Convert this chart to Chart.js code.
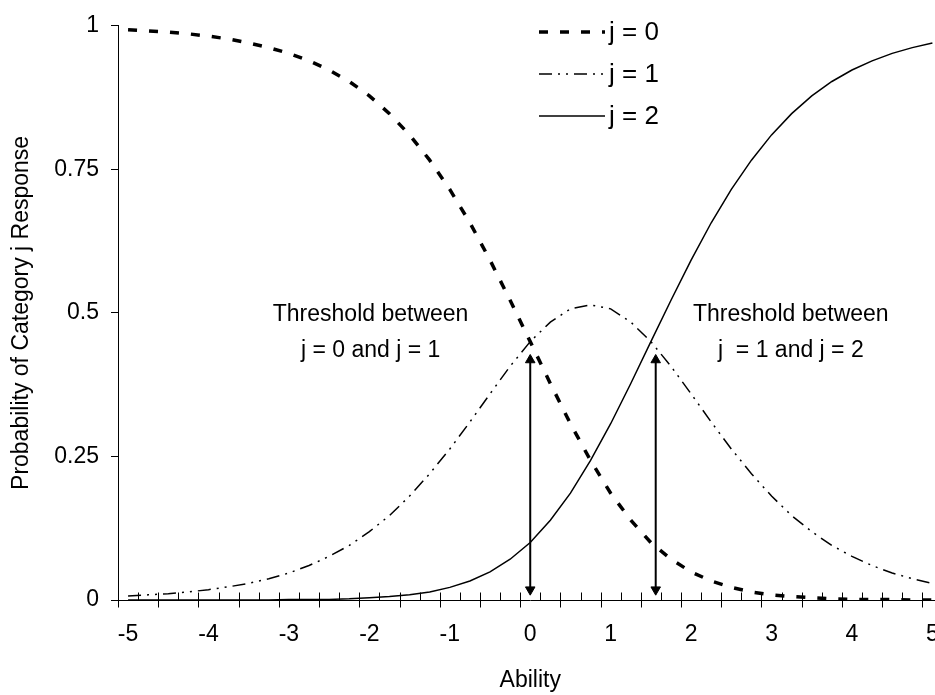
<!DOCTYPE html>
<html>
<head>
<meta charset="utf-8">
<script src="https://cdn.jsdelivr.net/npm/chart.js@4/dist/chart.umd.min.js"></script>
<style>
  html, body { margin: 0; padding: 0; background: #fff; overflow: hidden; }
  #wrap { position: relative; width: 960px; height: 695px; }
</style>
</head>
<body>
<div id="wrap"><canvas id="chart" width="960" height="695"></canvas></div>
<script>
// ability points (one every 0.25) and category curves
const ability = [-5, -4.75, -4.5, -4.25, -4, -3.75, -3.5, -3.25, -3, -2.75, -2.5, -2.25, -2, -1.75, -1.5, -1.25, -1, -0.75, -0.5, -0.25,
  0, 0.25, 0.5, 0.75, 1, 1.25, 1.5, 1.75, 2, 2.25, 2.5, 2.75, 3, 3.25, 3.5, 3.75, 4, 4.25, 4.5, 4.75, 5];
const pJ0 = [0.993, 0.991, 0.989, 0.986, 0.982, 0.977, 0.970, 0.962, 0.952, 0.939, 0.923, 0.903, 0.878, 0.847, 0.810, 0.766, 0.715, 0.657, 0.592, 0.522,
  0.450, 0.377, 0.307, 0.243, 0.186, 0.139, 0.100, 0.071, 0.049, 0.033, 0.022, 0.014, 0.009, 0.006, 0.004, 0.002, 0.001, 0.001, 0.001, 0.000, 0.000];
const pJ1 = [0.007, 0.009, 0.011, 0.014, 0.018, 0.023, 0.029, 0.037, 0.047, 0.060, 0.076, 0.095, 0.119, 0.147, 0.181, 0.220, 0.263, 0.310, 0.359, 0.407,
  0.450, 0.484, 0.507, 0.514, 0.507, 0.484, 0.450, 0.407, 0.359, 0.310, 0.263, 0.220, 0.181, 0.147, 0.119, 0.095, 0.076, 0.060, 0.047, 0.037, 0.029];
const pJ2 = [0.000, 0.000, 0.000, 0.000, 0.000, 0.000, 0.000, 0.000, 0.001, 0.001, 0.001, 0.002, 0.004, 0.006, 0.009, 0.014, 0.022, 0.033, 0.049, 0.071,
  0.100, 0.139, 0.186, 0.243, 0.307, 0.377, 0.450, 0.522, 0.592, 0.657, 0.715, 0.766, 0.810, 0.847, 0.878, 0.903, 0.923, 0.939, 0.952, 0.962, 0.970];

const seriesNames = ["j = 0", "j = 1", "j = 2"];
const xTickLabels = [-5, -4, -3, -2, -1, 0, 1, 2, 3, 4, 5];
const yTickValues = [0, 0.25, 0.5, 0.75, 1];

// double arrows marking the thresholds
const thresholdAbility = [0, 1.56];
const arrowLow = 0.018;
const arrowHigh = 0.418;

// notes beside the arrows
const noteLines = [["Threshold between", "j = 0 and j = 1"], ["Threshold between", "j  = 1 and j = 2"]];
const noteAbility = [-1.985, 3.24];
const noteProb = 0.497;

const FONT = '"Liberation Sans", Arial, sans-serif';
const half = 0.125; // half a category step
const xBounds = ability.map(a => a - half).concat([ability[ability.length - 1] + half]);

function pts(vals) {
  return ability.map((a, i) => ({ x: a, y: vals[i] }));
}

function arrow(a) {
  return {
    label: '',
    data: [{ x: a, y: arrowLow }, { x: a, y: arrowHigh }],
    borderColor: '#000',
    backgroundColor: '#000',
    borderWidth: 2,
    pointStyle: 'triangle',
    pointRadius: 5.5,
    pointBorderWidth: 1,
    pointRotation: [180, 0]
  };
}

// tick marks on the category axis, legend and notes
const extras = {
  id: 'extras',
  afterDraw(chart) {
    const { ctx, scales: { x, y } } = chart;
    ctx.save();
    ctx.strokeStyle = '#000';
    ctx.lineWidth = 1;
    const y0 = Math.round(y.getPixelForValue(0)) + 0.5;
    xBounds.forEach((b, i) => {
      const px = Math.round(x.getPixelForValue(b)) + 0.5;
      ctx.beginPath();
      ctx.moveTo(px, y0 - 8);
      ctx.lineTo(px, i % 2 === 0 ? y0 + 7 : y0);
      ctx.stroke();
    });

    // legend
    ctx.fillStyle = '#000';
    ctx.font = '26px ' + FONT;
    ctx.textAlign = 'left';
    ctx.textBaseline = 'middle';
    chart.data.datasets.slice(0, 3).forEach((ds, i) => {
      const ly = 32 + i * 42;
      ctx.lineWidth = ds.borderWidth;
      ctx.setLineDash(ds.borderDash || []);
      ctx.beginPath();
      ctx.moveTo(539, ly);
      ctx.lineTo(605, ly);
      ctx.stroke();
      ctx.setLineDash([]);
      ctx.fillText(ds.label, 609, ly + 1);
    });

    // notes
    ctx.font = '23px ' + FONT;
    ctx.textAlign = 'center';
    noteLines.forEach((lines, i) => {
      const cx = x.getPixelForValue(noteAbility[i]);
      const cy = y.getPixelForValue(noteProb);
      lines.forEach((t, k) => ctx.fillText(t, cx, cy + k * 36));
    });
    ctx.restore();
  }
};

new Chart(document.getElementById('chart'), {
  type: 'line',
  data: {
    datasets: [
      { label: seriesNames[0], data: pts(pJ0), borderColor: '#000', borderWidth: 3.5, borderDash: [9, 12], pointRadius: 0, tension: 0 },
      { label: seriesNames[1], data: pts(pJ1), borderColor: '#000', borderWidth: 1.5, borderDash: [13, 6, 2, 6, 2, 6], pointRadius: 0, tension: 0 },
      { label: seriesNames[2], data: pts(pJ2), borderColor: '#000', borderWidth: 1.5, pointRadius: 0, tension: 0 },
      arrow(thresholdAbility[0]),
      arrow(thresholdAbility[1])
    ]
  },
  options: {
    responsive: false,
    animation: false,
    events: [],
    layout: { padding: { left: 0, top: 23, right: 16, bottom: 0 } },
    plugins: { legend: { display: false }, tooltip: { enabled: false } },
    scales: {
      x: {
        type: 'linear',
        min: ability[0] - half,
        max: ability[ability.length - 1] + half,
        afterBuildTicks: s => { s.ticks = xTickLabels.map(v => ({ value: v })); },
        afterFit: s => { s.height = 95; },
        grid: { drawOnChartArea: false, drawTicks: false, color: '#000' },
        border: { color: '#000', width: 1 },
        ticks: { color: '#000', font: { family: FONT, size: 23 }, padding: 21, maxRotation: 0, autoSkip: false, callback: v => String(v) },
        title: { display: true, text: 'Ability', color: '#000', font: { family: FONT, size: 23 }, padding: { top: 0, bottom: 1 } }
      },
      y: {
        min: 0,
        max: 1,
        afterBuildTicks: s => { s.ticks = yTickValues.map(v => ({ value: v })); },
        afterFit: s => { s.width = 118; },
        grid: { drawOnChartArea: false, tickLength: 7, color: '#000' },
        border: { color: '#000', width: 1 },
        ticks: { color: '#000', font: { family: FONT, size: 23 }, padding: 12, callback: v => String(v) },
        title: { display: true, text: 'Probability of Category j Response', color: '#000', font: { family: FONT, size: 23 }, padding: { top: 8, bottom: 0 } }
      }
    }
  },
  plugins: [extras]
});
</script>
</body>
</html>
